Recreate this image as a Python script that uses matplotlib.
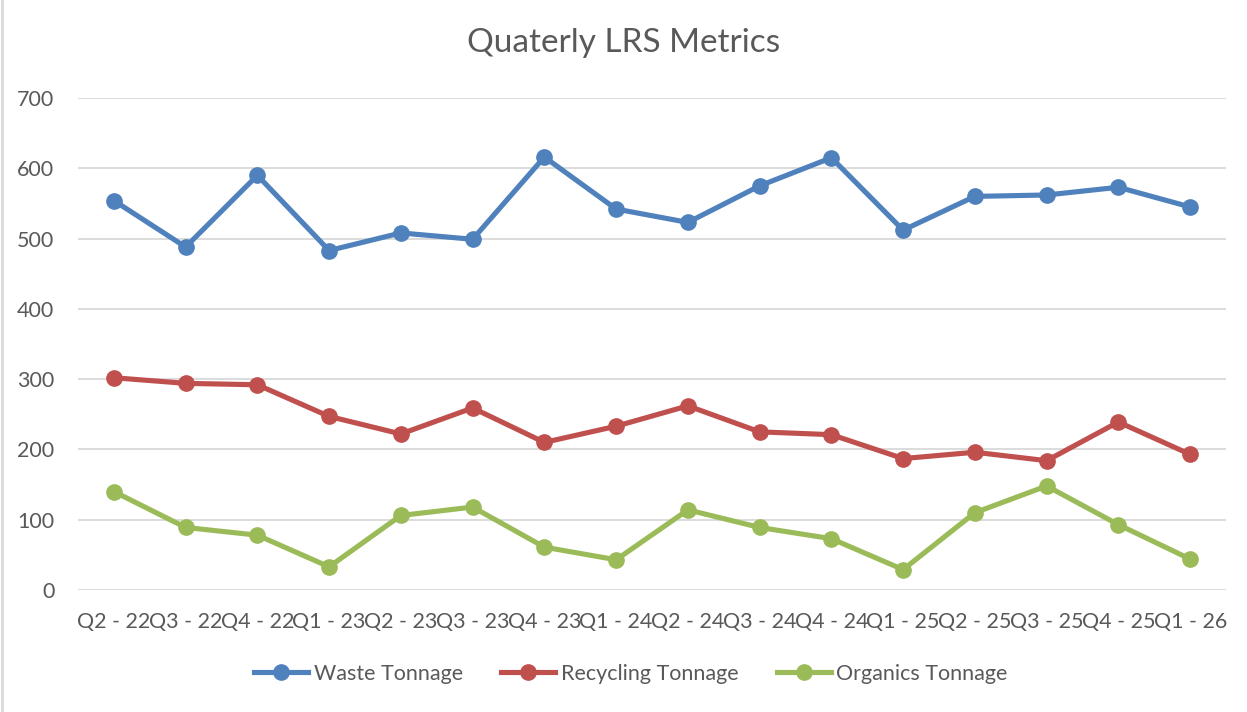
import matplotlib
matplotlib.use("Agg")
import matplotlib.pyplot as plt
from matplotlib.lines import Line2D

categories = ["Q2 - 22", "Q3 - 22", "Q4 - 22", "Q1 - 23", "Q2 - 23", "Q3 - 23",
              "Q4 - 23", "Q1 - 24", "Q2 - 24", "Q3 - 24", "Q4 - 24", "Q1 - 25",
              "Q2 - 25", "Q3 - 25", "Q4 - 25", "Q1 - 26"]
waste = [554, 488, 590, 483, 508, 499, 616, 542, 523, 575, 615, 512, 560, 562, 573, 545]
recycling = [302, 294, 292, 247, 222, 259, 210, 233, 262, 225, 221, 187, 196, 184, 239, 193]
organics = [140, 89, 78, 33, 106, 118, 61, 43, 114, 89, 73, 29, 110, 148, 93, 44]
series_names = ["Waste Tonnage", "Recycling Tonnage", "Organics Tonnage"]
colors = ["#4F81BD", "#C0504D", "#9BBB59"]
yticks = [0, 100, 200, 300, 400, 500, 600, 700]

plt.rcParams['font.family'] = ['Lato', 'DejaVu Sans']
text_color = "#595959"

fig = plt.figure(figsize=(12.47, 7.12), dpi=100)
ax = fig.add_axes([78/1247, 1-590/712, (1226-78)/1247, (590-98)/712])

x = list(range(len(categories)))
for vals, name, c in zip([waste, recycling, organics], series_names, colors):
    ax.plot(x, vals, color=c, lw=3.7, marker='o', markersize=11, label=name,
            solid_joinstyle='round', zorder=3)

ax.set_xlim(-0.5, len(categories) - 0.5)
ax.set_ylim(0, 700)
ax.set_yticks(yticks)
ax.set_yticklabels([str(v) for v in yticks])
ax.set_xticks(x)
ax.set_xticklabels(categories)
ax.tick_params(axis='both', length=0, labelsize=15.5, colors=text_color)
ax.tick_params(axis='y', pad=17)
ax.tick_params(axis='x', pad=16)
for s in ax.spines.values():
    s.set_visible(False)
ax.yaxis.grid(True, color="#D9D9D9", lw=1.3)
ax.set_axisbelow(True)

fig.text(0.5, 1-43/712, "Quaterly LRS Metrics", ha='center', va='center',
         fontsize=24, color=text_color)

handles = [Line2D([0], [0], color=c, lw=3.7, marker='o', markersize=11) for c in colors]
fig.legend(handles, series_names, loc='center', bbox_to_anchor=(0.506, 1-674/712),
           ncol=3, frameon=False, fontsize=15.5, labelcolor=text_color,
           handlelength=2.5, handletextpad=0.25, columnspacing=1.8)

fig.add_artist(Line2D([0.0015, 0.0015], [0, 1], color="#D9D9D9", lw=2, transform=fig.transFigure))

fig.savefig("out.png", dpi=100, facecolor='white')
